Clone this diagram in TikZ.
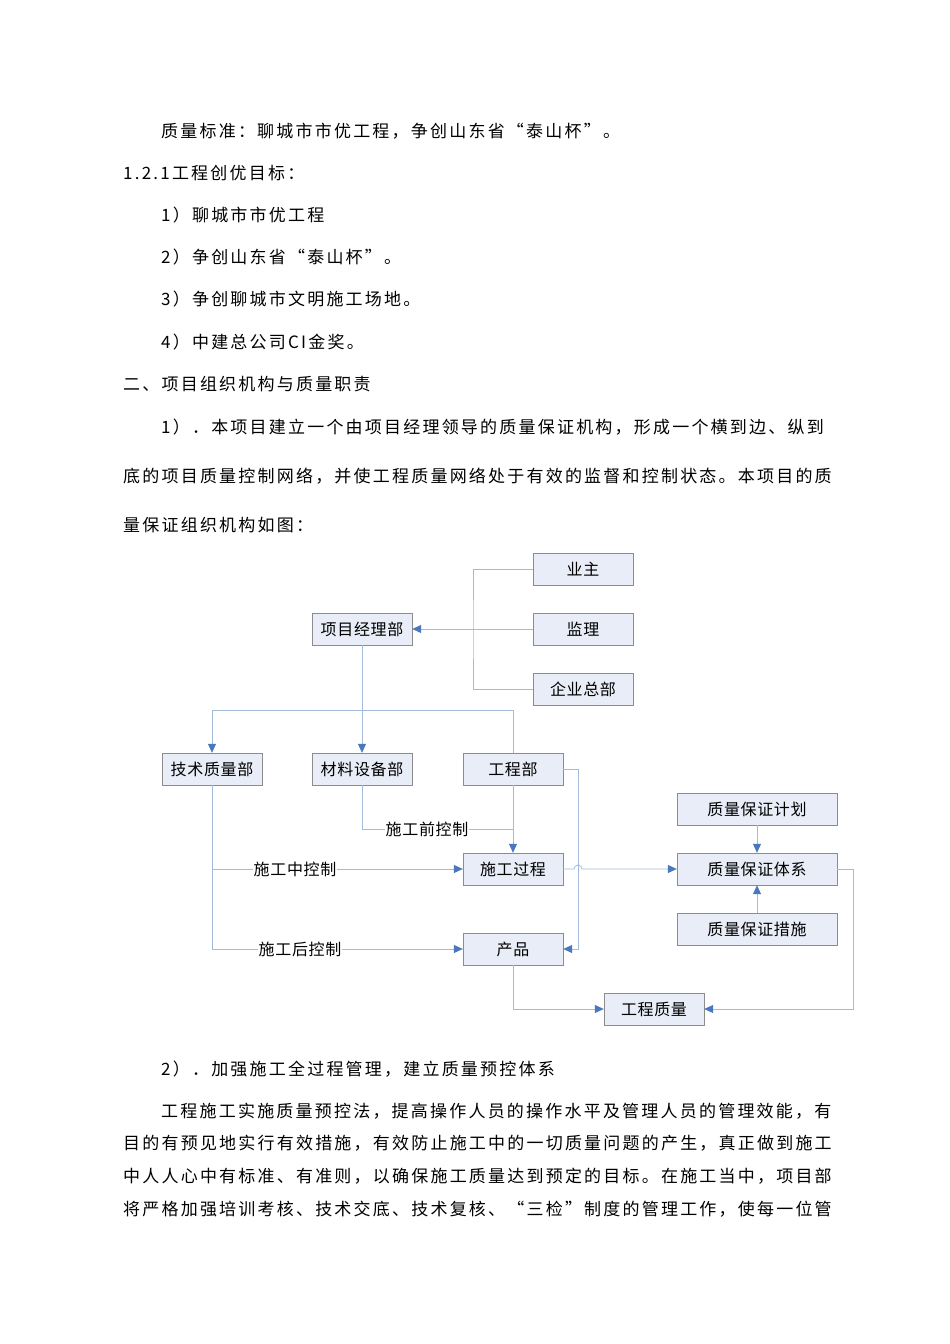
\documentclass[tikz,border=0pt]{standalone}
\usepackage{fontspec}
\setmainfont{Noto Sans CJK SC}[LetterSpace=13]
\newfontfamily\diag{Noto Sans CJK SC}[LetterSpace=4]
\usetikzlibrary{arrows.meta}
\definecolor{boxfill}{HTML}{E9EDF7}
\definecolor{boxline}{HTML}{8C8C8C}
\definecolor{ln}{HTML}{A3BAD8}
\definecolor{arr}{HTML}{4A78BE}
\newcommand\jline[1]{\hbox to 712pt{#1\hfil}}
\begin{document}
\begin{tikzpicture}[x=1pt,y=-1pt,
 txt/.style={anchor=west,inner sep=0pt,font=\fontsize{17}{20}\selectfont},
 bx/.style={draw=boxline,fill=boxfill,minimum width=100pt,minimum height=32pt,inner sep=0pt,font=\diag\fontsize{16}{18}\selectfont},
 wbx/.style={bx,minimum width=160pt},
 con/.style={draw=ln,line width=0.8pt},
 tip/.style={con,-{Triangle[length=9pt,width=8pt,fill=arr,color=arr]}},
 lab/.style={fill=white,inner sep=1pt,font=\diag\fontsize{16}{18}\selectfont}]
\useasboundingbox[fill=white] (0,0) rectangle (950,1344);
% body text
\node[txt] (t1) at (161,131) {质量标准：聊城市市优工程，争创山东省“泰山杯”。};
\node[txt] (t2) at (123,173) {1.2.1工程创优目标：};
\node[txt] (t3) at (161,215) {1）聊城市市优工程};
\node[txt] (t4) at (161,257) {2）争创山东省“泰山杯”。};
\node[txt] (t5) at (161,299) {3）争创聊城市文明施工场地。};
\node[txt] (t6) at (161,342) {4）中建总公司CI金奖。};
\node[txt] (t7) at (123,384) {二、项目组织机构与质量职责};
\node[txt] (t8) at (123,427) {\jline{\hskip38pt 1）．本项目建立一个由项目经理领导的质量保证机构，形成一个横到边、纵到}};
\node[txt] (t9) at (123,476) {\jline{底的项目质量控制网络，并使工程质量网络处于有效的监督和控制状态。本项目的质}};
\node[txt] (t10) at (123,525) {量保证组织机构如图：};
\node[txt] (t11) at (161,1069) {2）．加强施工全过程管理，建立质量预控体系};
\node[txt] (t12) at (123,1111) {\jline{\hskip38pt 工程施工实施质量预控法，提高操作人员的操作水平及管理人员的管理效能，有}};
\node[txt] (t13) at (123,1143) {\jline{目的有预见地实行有效措施，有效防止施工中的一切质量问题的产生，真正做到施工}};
\node[txt] (t14) at (123,1176) {\jline{中人人心中有标准、有准则，以确保施工质量达到预定的目标。在施工当中，项目部}};
\node[txt] (t15) at (123,1209) {\jline{将严格加强培训考核、技术交底、技术复核、“三检”制度的管理工作，使每一位管}};
% boxes
\node[bx] (yz) at (583,569) {业主};
\node[bx] (jl) at (583,629) {监理};
\node[bx] (qy) at (583,689) {企业总部};
\node[bx] (xm) at (362,629) {项目经理部};
\node[bx] (js) at (212,769) {技术质量部};
\node[bx] (cl) at (362,769) {材料设备部};
\node[bx] (gc) at (513,769) {工程部};
\node[bx] (sg) at (513,869) {施工过程};
\node[bx] (cp) at (513,949) {产品};
\node[bx] (zl) at (654,1009) {工程质量};
\node[wbx] (jh) at (757,809) {质量保证计划};
\node[wbx] (tx) at (757,869) {质量保证体系};
\node[wbx] (cs) at (757,929) {质量保证措施};
\coordinate (tr) at (473,629);
% connectors
\draw[con] (yz.west) -| (tr) |- (qy.west);
\draw[tip] (jl.west) -- (xm.east);
\draw[con] (xm.south) -- (362,710);
\draw[tip] (362,710) -| (js.north);
\draw[tip] (362,710) -- (cl.north);
\draw[con] (362,710) -| (gc.north);
\draw[tip] (gc.south) -- (sg.north);
\draw[tip] (gc.east) -- (578,769) -- (578,949) -- (cp.east);
\draw[con] (cl.south) |- (513,829);
\node[lab] (l1) at (427,829) {施工前控制};
\draw[tip] (js.south) |- (cp.west);
\draw[tip] (212,869) -- (sg.west);
\node[lab] (l2) at (295,869) {施工中控制};
\node[lab] (l3) at (300,949) {施工后控制};
\draw[tip] (sg.east) -- (574,869) arc[start angle=180,end angle=0,radius=4pt] -- (tx.west);
\draw[tip] (jh.south) -- (tx.north);
\draw[tip] (cs.north) -- (tx.south);
\draw[tip] (tx.east) -- (853,869) |- (zl.east);
\draw[tip] (cp.south) |- (zl.west);
\end{tikzpicture}
\end{document}
